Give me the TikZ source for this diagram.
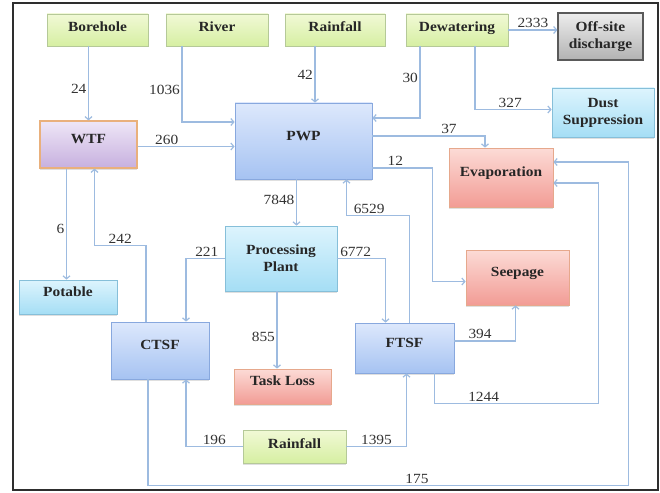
\documentclass[tikz,border=0pt]{standalone}
\usepackage{fontspec}
\setmainfont{Liberation Serif}[FakeStretch=1.1, BoldFont={Liberation Serif Bold}, BoldFeatures={FakeStretch=1.1}]
\usetikzlibrary{arrows.meta,shadows}
\definecolor{flowblue}{HTML}{9DBBE0}
\definecolor{srcTop}{HTML}{F1F9D6}
\definecolor{srcBot}{HTML}{D6EFA2}
\definecolor{srcLine}{HTML}{B5C998}
\definecolor{tankTop}{HTML}{DDE8FC}
\definecolor{tankBot}{HTML}{A6C3F2}
\definecolor{tankLine}{HTML}{88A8DE}
\definecolor{useTop}{HTML}{DDF4FD}
\definecolor{useBot}{HTML}{A5DEF5}
\definecolor{useLine}{HTML}{86BFD9}
\definecolor{lossTop}{HTML}{FCDBD6}
\definecolor{lossBot}{HTML}{F29C95}
\definecolor{lossLine}{HTML}{E6A88C}
\definecolor{wtfTop}{HTML}{EEE6F6}
\definecolor{wtfBot}{HTML}{C7B0DF}
\definecolor{wtfLine}{HTML}{E9B07C}
\definecolor{offTop}{HTML}{EDEDED}
\definecolor{offBot}{HTML}{B2B2B2}
\definecolor{offLine}{HTML}{5A5A5A}
\definecolor{framec}{HTML}{2E2E2E}
\begin{document}
\begin{tikzpicture}[x=1pt, y=-1pt,
  box/.style={draw, line width=0.8pt, minimum width=100pt, minimum height=33pt, inner sep=2pt,
    font=\fontsize{14}{17}\selectfont\bfseries, text=black!85, text height=10pt, text depth=12pt,
    drop shadow={opacity=0.25, shadow xshift=0pt, shadow yshift=-1.5pt}},
  twoline/.style={align=center, text height={}, text depth={}},
  src/.style={box, top color=srcTop, bottom color=srcBot, draw=srcLine, text depth=7pt},
  tank/.style={box, top color=tankTop, bottom color=tankBot, draw=tankLine},
  use/.style={box, top color=useTop, bottom color=useBot, draw=useLine},
  loss/.style={box, top color=lossTop, bottom color=lossBot, draw=lossLine},
  flow/.style={-{Straight Barb[length=3pt,width=7pt]}, draw=flowblue, line width=1.2pt},
  num/.style={font=\fontsize{14}{17}\selectfont, inner sep=1.5pt, text=black!80}]
\useasboundingbox (0,0) rectangle (660,492);
\fill[white] (0,0) rectangle (660,492);
\draw[framec, line width=1.5pt] (13,3) rectangle (658,490);
\node[src, minimum width=101pt, minimum height=32pt] (bore) at (97.5,30) {Borehole};
\node[src, minimum width=102pt, minimum height=32pt] (river) at (217,30) {River};
\node[src, minimum width=100pt, minimum height=32pt] (rainT) at (335,30) {Rainfall};
\node[src, minimum width=102pt, minimum height=32pt] (dewat) at (457,30) {Dewatering};
\node[box, twoline, top color=offTop, bottom color=offBot, draw=offLine, line width=1.2pt, minimum width=85pt, minimum height=47pt] (offsite) at (600.5,36.5) {Off-site\\discharge};
\node[use, twoline, minimum width=102pt, minimum height=49pt] (dust) at (603,112.5) {Dust\\Suppression};
\node[box, top color=wtfTop, bottom color=wtfBot, draw=wtfLine, line width=1.2pt, minimum width=97pt, minimum height=47pt] (wtf) at (88.5,144.5) {WTF};
\node[tank, minimum width=137pt, minimum height=76pt] (pwp) at (303.5,141) {PWP};
\node[loss, minimum width=104pt, minimum height=59pt] (evap) at (501,177.5) {Evaporation};
\node[use, twoline, minimum width=112pt, minimum height=65pt] (plant) at (281,258.5) {Processing\\Plant};
\node[use, minimum width=98pt, minimum height=34pt] (potable) at (68,297) {Potable};
\node[tank, minimum width=98pt, minimum height=57pt] (ctsf) at (160,350.5) {CTSF};
\node[loss, minimum width=97pt, minimum height=35pt] (task) at (282.5,386.5) {Task Loss};
\node[loss, minimum width=103pt, minimum height=55pt] (seep) at (517.5,277.5) {Seepage};
\node[tank, minimum width=99pt, minimum height=50pt] (ftsf) at (404.5,348) {FTSF};
\node[src, minimum width=103pt, minimum height=33pt] (rainB) at (294.5,446.5) {Rainfall};
\draw[flow] ([xshift=-9pt]bore.south) -- ([xshift=-9pt]bore.south |- wtf.north) node[num, left, pos=.58] {24};
\draw[flow] ([xshift=-35pt]river.south) |- ([yshift=19pt]pwp.west) node[num, left, pos=.29] {1036};
\draw[flow] ([xshift=-20pt]rainT.south) -- ([xshift=-20pt]rainT.south |- pwp.north) node[num, left, pos=.5] {42};
\draw[flow] ([xshift=-37pt]dewat.south) |- ([yshift=23pt]pwp.east) node[num, left, pos=.22] {30};
\draw[flow] ([xshift=18pt]dewat.south) |- ([yshift=3pt]dust.west) node[num, above, pos=.73] {327};
\draw[flow] (dewat.east) -- (dewat.east -| offsite.west) node[num, above, midway] {2333};
\draw[flow] ([yshift=-2pt]wtf.east) -- ([yshift=-2pt]wtf.east -| pwp.west) node[num, above, pos=.3] {260};
\draw[flow] ([yshift=5pt]pwp.east) -| node[num, above, pos=.34] {37} ([xshift=-16pt]evap.north);
\draw[flow] ([yshift=-27pt]pwp.east) -| node[num, above, pos=.19] {12} ([xshift=-33pt,yshift=-4pt]seep.west) -- ([yshift=-4pt]seep.west);
\draw[flow] ([xshift=-7pt]pwp.south) -- ([xshift=-7pt]pwp.south |- plant.north) node[num, left, pos=.45] {7848};
\draw[flow] ([xshift=5pt]ftsf.north) -- ++(0,-107) -| node[num, above, pos=.32] {6529} ([xshift=43pt]pwp.south);
\draw[flow] (plant.east) -| node[num, above, pos=.19] {6772} ([xshift=-19pt]ftsf.north);
\draw[flow] (plant.west) -| node[num, above, pos=.23] {221} ([xshift=26pt]ctsf.north);
\draw[flow] ([xshift=-14pt]ctsf.north) -- ++(0,-76) -| node[num, above, pos=.25] {242} ([xshift=6pt]wtf.south);
\draw[flow] ([xshift=-22pt]wtf.south) -- ([xshift=-22pt]wtf.south |- potable.north) node[num, left, pos=.54] {6};
\draw[flow] ([xshift=-4pt]plant.south) -- ([xshift=-4pt]plant.south |- task.north) node[num, left, pos=.59] {855};
\draw[flow] (rainB.west) -| node[num, above, pos=.25] {196} ([xshift=26pt]ctsf.south);
\draw[flow] (rainB.east) -| node[num, above, pos=.25] {1395} ([xshift=2pt]ftsf.south);
\draw[flow] ([yshift=7pt]ftsf.east) -| node[num, above, pos=.21] {394} ([xshift=-2pt]seep.south);
\draw[flow] ([xshift=30pt]ftsf.south) -- ++(0,30) -| node[num, above, pos=.15] {1244} ([xshift=45pt,yshift=-5.5pt]evap.east) -- ([yshift=-5.5pt]evap.east);
\draw[flow] ([xshift=-12pt]ctsf.south) -- ++(0,106) -| node[num, above, pos=.28] {175} ([xshift=75pt,yshift=15.5pt]evap.east) -- ([yshift=15.5pt]evap.east);
\end{tikzpicture}
\end{document}
